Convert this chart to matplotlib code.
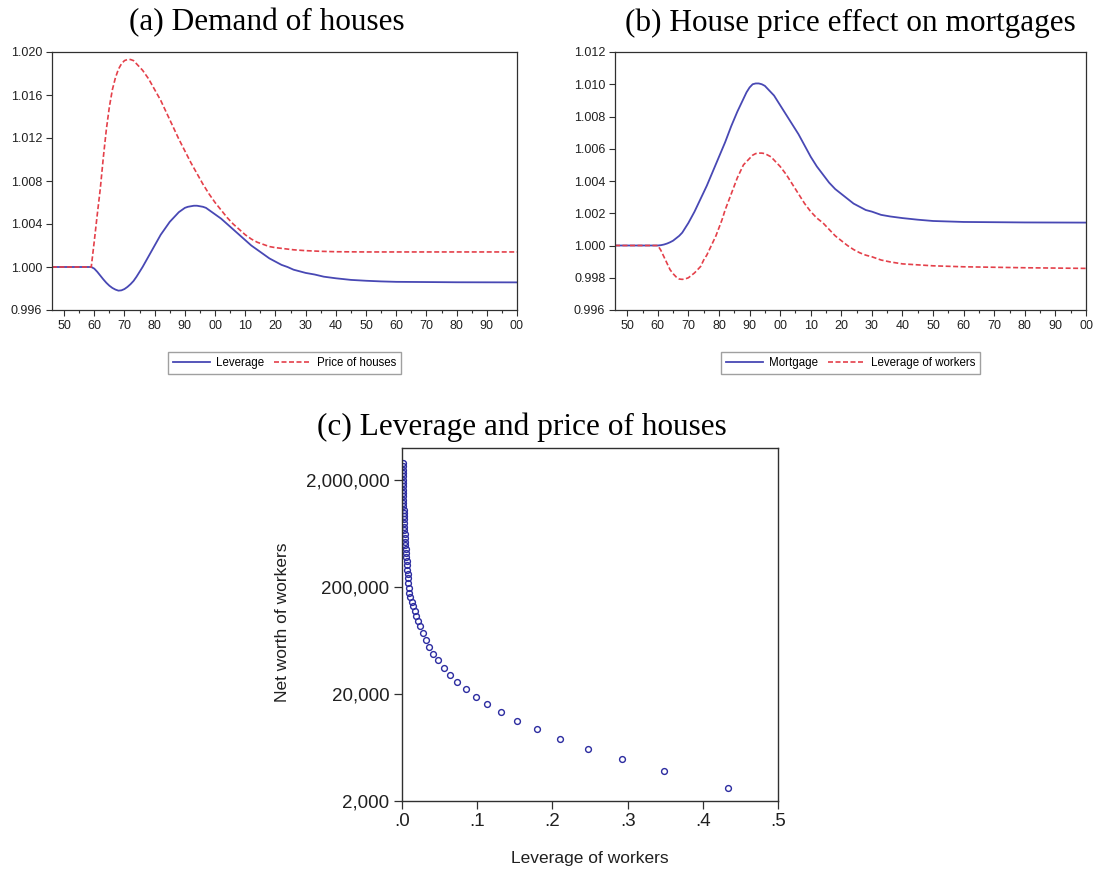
import matplotlib
matplotlib.use("Agg")
import matplotlib.pyplot as plt
from matplotlib.ticker import FuncFormatter, FixedLocator, MultipleLocator, NullLocator

# ---------------- data: panel (a) ----------------
lev_a_years = [1946, 1959, 1960, 1961, 1962, 1963, 1964, 1965, 1966, 1967, 1968, 1969, 1970,
               1971, 1972, 1973, 1974, 1975, 1976, 1977, 1978, 1979, 1980, 1981, 1982, 1983,
               1984, 1985, 1986, 1987, 1988, 1989, 1990, 1991, 1992, 1993, 1994, 1995, 1996,
               1997, 1998, 1999, 2000, 2002, 2004, 2006, 2008, 2010, 2012, 2014, 2016, 2018,
               2020, 2022, 2024, 2026, 2028, 2030, 2033, 2036, 2040, 2045, 2050, 2055, 2060,
               2070, 2080, 2100]
lev_a_vals = [1.0, 1.0, 0.99985, 0.99955, 0.9992, 0.99885, 0.99853, 0.99826, 0.99805, 0.9979,
              0.9978, 0.99783, 0.99795, 0.99815, 0.9984, 0.9987, 0.9991, 0.99955, 1.0000,
              1.0005, 1.0010, 1.0015, 1.0020, 1.0025, 1.0030, 1.0034, 1.0038, 1.0042, 1.0045,
              1.0048, 1.0051, 1.0053, 1.0055, 1.0056, 1.00565, 1.0057, 1.0057, 1.00565,
              1.0056, 1.0055, 1.0053, 1.0051, 1.0049, 1.0045, 1.0040, 1.0035, 1.0030, 1.0025,
              1.0020, 1.0016, 1.0012, 1.0008, 1.0005, 1.0002, 1.0000, 0.99975, 0.9996,
              0.99945, 0.9993, 0.9991, 0.99895, 0.9988, 0.99872, 0.99866, 0.99862, 0.9986,
              0.99858, 0.99857]

price_years = [1946, 1959, 1960, 1961, 1962, 1963, 1964, 1965, 1966, 1967, 1968, 1969, 1970,
               1971, 1972, 1973, 1974, 1976, 1978, 1980, 1982, 1984, 1986, 1988, 1990, 1992,
               1994, 1996, 1998, 2000, 2002, 2004, 2006, 2008, 2010, 2012, 2014, 2016, 2018,
               2020, 2023, 2026, 2030, 2035, 2040, 2050, 2100]
price_vals = [1.0, 1.0, 1.0024, 1.0049, 1.0073, 1.0102, 1.0128, 1.0149, 1.0165, 1.0176, 1.0184,
              1.0189, 1.0192, 1.0193, 1.0193, 1.0192, 1.0189, 1.0183, 1.0175, 1.0165, 1.0155,
              1.0143, 1.0131, 1.0119, 1.0108, 1.0097, 1.0087, 1.0077, 1.0068, 1.0060, 1.0053,
              1.0046, 1.0040, 1.0035, 1.0030, 1.0026, 1.0023, 1.0021, 1.0019, 1.0018, 1.0017,
              1.0016, 1.00152, 1.00146, 1.00142, 1.0014, 1.0014]

# ---------------- data: panel (b) ----------------
mort_years = [1946, 1960, 1961, 1962, 1963, 1964, 1965, 1966, 1967, 1968, 1969, 1970, 1972,
              1974, 1976, 1978, 1980, 1982, 1984, 1986, 1988, 1989, 1990, 1991, 1992, 1993,
              1994, 1995, 1996, 1998, 2000, 2002, 2004, 2006, 2008, 2010, 2012, 2014, 2016,
              2018, 2020, 2022, 2024, 2026, 2028, 2030, 2033, 2036, 2040, 2045, 2050, 2060,
              2080, 2100]
mort_vals = [1.0, 1.0, 1.00002, 1.00006, 1.00012, 1.0002, 1.0003, 1.00045, 1.0006, 1.0008,
             1.0011, 1.0014, 1.0021, 1.0029, 1.0037, 1.0046, 1.0055, 1.0064, 1.0074, 1.0083,
             1.0091, 1.0095, 1.0098, 1.0100, 1.01005, 1.01005, 1.0100, 1.0099, 1.0097,
             1.0093, 1.0087, 1.0081, 1.0075, 1.0069, 1.0062, 1.0055, 1.0049, 1.0044, 1.0039,
             1.0035, 1.0032, 1.0029, 1.0026, 1.0024, 1.0022, 1.0021, 1.0019, 1.0018, 1.0017,
             1.0016, 1.00152, 1.00146, 1.00143, 1.00142]

levw_years = [1946, 1960, 1961, 1962, 1963, 1964, 1965, 1966, 1967, 1968, 1969, 1970, 1971,
              1972, 1973, 1974, 1975, 1976, 1977, 1978, 1979, 1980, 1981, 1982, 1983, 1984,
              1985, 1986, 1987, 1988, 1989, 1990, 1991, 1992, 1993, 1994, 1995, 1996, 1997,
              1998, 1999, 2000, 2002, 2004, 2006, 2008, 2010, 2012, 2014, 2016, 2018, 2020,
              2022, 2024, 2026, 2028, 2030, 2033, 2036, 2040, 2045, 2050, 2060, 2080, 2100]
levw_vals = [1.0, 1.0, 0.9997, 0.9993, 0.9989, 0.9985, 0.99825, 0.99805, 0.99792, 0.9979,
             0.99793, 0.9980, 0.99815, 0.9983, 0.9985, 0.9987, 0.9991, 0.9994, 0.9998, 1.0002,
             1.0006, 1.0011, 1.0016, 1.0022, 1.0027, 1.0032, 1.0037, 1.0042, 1.0046, 1.0050,
             1.0052, 1.0054, 1.0056, 1.0057, 1.00573, 1.00573, 1.0057, 1.0056, 1.0055,
             1.0053, 1.0051, 1.0049, 1.0044, 1.0038, 1.0032, 1.0026, 1.0021, 1.0017, 1.0014,
             1.0010, 1.0006, 1.0003, 1.0000, 0.99975, 0.99955, 0.9994, 0.9993, 0.9991,
             0.99898, 0.99886, 0.9988, 0.99874, 0.99868, 0.99862, 0.99858]

# ---------------- data: panel (c) ----------------
leverage_workers = [0.0009, 0.0009, 0.0009, 0.0009, 0.0009, 0.0009, 0.0009,
                    0.0013, 0.0013, 0.0013, 0.0013,
                    0.0018, 0.0018, 0.0018,
                    0.0022, 0.0022, 0.0022,
                    0.0027, 0.0027, 0.0031, 0.0031, 0.0035, 0.0035,
                    0.0040, 0.0044, 0.0049, 0.0053, 0.0058, 0.0062, 0.0066, 0.0071, 0.0075,
                    0.0080, 0.0084, 0.0089, 0.0098, 0.0111, 0.0129, 0.0146, 0.0168, 0.0188,
                    0.0209, 0.0239, 0.0275, 0.0319, 0.0363, 0.0416, 0.0483, 0.0559, 0.0634,
                    0.0735, 0.0851, 0.0984, 0.1134, 0.132, 0.1533, 0.1795, 0.2105, 0.248,
                    0.293, 0.349, 0.434]
net_worth = [2900000, 2700000, 2516000, 2342000, 2180000, 2029000, 1889000,
             1758000, 1636000, 1523000, 1418000,
             1319000, 1228000, 1143000,
             1064000, 990000, 921000,
             858000, 793000, 733000, 677000, 626000, 578000,
             534000, 494000, 453000, 416000, 381000, 350000, 319000, 290000, 265000,
             241000, 218000, 197000, 178000, 161000, 146000, 132000, 119000, 108000,
             96800, 86500, 74800, 64000, 55000, 47600, 41300, 35200, 30300,
             25700, 22100, 18900, 16000, 13500, 11250, 9350, 7640, 6170,
             4910, 3790, 2630]

# ---------------- styling ----------------
BLUE = "#4848b4"
RED = "#e4404a"
MARK = "#2c2ca0"
SPINE = "#303030"
SERIF = ['Liberation Serif', 'DejaVu Serif']
plt.rcParams['font.family'] = ['Liberation Sans', 'DejaVu Sans']

W, H = 1102, 875
fig = plt.figure(figsize=(W / 100, H / 100), dpi=100)


def axes_px(l, t, r, b):
    return fig.add_axes([l / W, 1 - b / H, (r - l) / W, (b - t) / H])


def year_fmt(v, pos):
    return "%02d" % (int(round(v)) % 100)


def style_ts(ax, ymin, ymax, ystep):
    ax.set_xlim(1946, 2100)
    ax.set_ylim(ymin, ymax)
    ax.xaxis.set_major_locator(FixedLocator(list(range(1950, 2101, 10))))
    ax.xaxis.set_minor_locator(FixedLocator(list(range(1955, 2100, 10))))
    ax.xaxis.set_major_formatter(FuncFormatter(year_fmt))
    ax.yaxis.set_major_locator(MultipleLocator(ystep))
    ax.yaxis.set_major_formatter(FuncFormatter(lambda v, p: "%.3f" % v))
    ax.tick_params(axis='both', which='major', labelsize=9, length=4, width=0.8,
                   color=SPINE, labelcolor="#202020", pad=3)
    ax.tick_params(axis='x', which='minor', length=2.5, width=0.8, color=SPINE)
    for s in ax.spines.values():
        s.set_color(SPINE)
        s.set_linewidth(0.9)


def add_legend(ax):
    ax.legend(loc='upper center', bbox_to_anchor=(0.5, -0.163), ncol=2, fontsize=8.3,
              frameon=True, fancybox=False, edgecolor="#888888", handlelength=3.2,
              columnspacing=0.9, handletextpad=0.5, borderpad=0.45, borderaxespad=0)


# ----- panel (a)
axa = axes_px(52, 52, 517, 310)
axa.plot(lev_a_years, lev_a_vals, color=BLUE, lw=1.3, label="Leverage")
axa.plot(price_years, price_vals, color=RED, lw=1.2, dashes=(3, 1.5), label="Price of houses")
style_ts(axa, 0.996, 1.020, 0.004)
add_legend(axa)
fig.text(267 / W, 1 - 23 / H, "(a) Demand of houses", ha='center', va='center',
         family=SERIF, fontsize=22.5)

# ----- panel (b)
axb = axes_px(615, 52, 1086, 310)
axb.plot(mort_years, mort_vals, color=BLUE, lw=1.3, label="Mortgage")
axb.plot(levw_years, levw_vals, color=RED, lw=1.2, dashes=(3, 1.5), label="Leverage of workers")
style_ts(axb, 0.996, 1.012, 0.002)
add_legend(axb)
fig.text(850 / W, 1 - 23 / H, "(b) House price effect on mortgages", ha='center',
         va='center', family=SERIF, fontsize=22.5)

# ----- panel (c)
axc = axes_px(402, 448, 778, 801)
axc.plot(leverage_workers, net_worth, linestyle='none', marker='o', markersize=4.2,
         markerfacecolor='none', markeredgecolor=MARK, markeredgewidth=1.0)
axc.set_yscale('log')
axc.set_xlim(0, 0.5)
axc.set_ylim(2000, 4.0e6)
axc.yaxis.set_major_locator(FixedLocator([2000, 20000, 200000, 2000000]))
axc.yaxis.set_minor_locator(NullLocator())
axc.yaxis.set_major_formatter(FuncFormatter(lambda v, p: "{:,.0f}".format(v)))
axc.xaxis.set_major_locator(FixedLocator([0, 0.1, 0.2, 0.3, 0.4, 0.5]))
axc.xaxis.set_major_formatter(FuncFormatter(lambda v, p: ("%.1f" % v)[1:]))
axc.tick_params(axis='both', which='major', labelsize=13.5, length=6, width=0.9,
                color=SPINE, labelcolor="#202020", pad=3)
for s in axc.spines.values():
    s.set_color(SPINE)
    s.set_linewidth(1.0)
axc.set_xlabel("Leverage of workers", fontsize=12.5, color="#202020")
axc.xaxis.set_label_coords(0.5, -0.142)
axc.set_ylabel("Net worth of workers", fontsize=12.5, color="#202020")
axc.yaxis.set_label_coords(-0.298, 0.505)
fig.text(522 / W, 1 - 427 / H, "(c) Leverage and price of houses", ha='center',
         va='center', family=SERIF, fontsize=22.5)

fig.savefig("out.png", dpi=100)
